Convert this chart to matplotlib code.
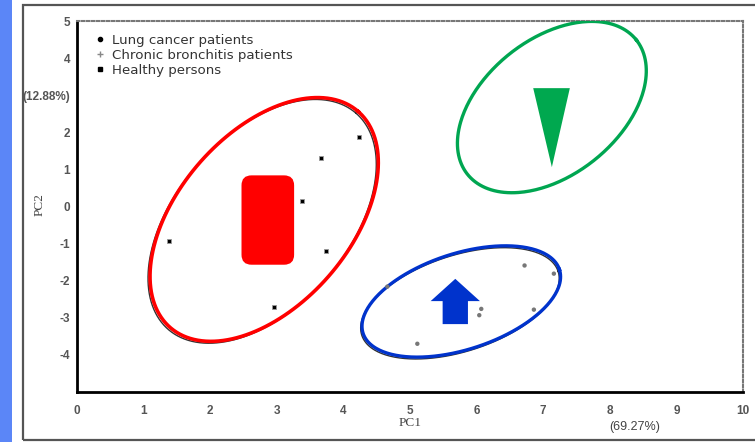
import numpy as np
import matplotlib.pyplot as plt
from matplotlib.lines import Line2D
from matplotlib.patches import Rectangle, Polygon, FancyBboxPatch

# healthy persons (inside the red ellipse)
healthy_x = [1.38, 2.96, 3.38, 3.67, 3.74, 4.24]
healthy_y = [-0.92, -2.70, 0.14, 1.32, -1.19, 1.86]

# chronic bronchitis patients (inside the blue ellipse)
bronch_x = [4.66, 5.11, 6.04, 6.07, 6.72, 6.86, 7.16]
bronch_y = [-2.16, -3.70, -2.93, -2.76, -1.59, -2.78, -1.81]

legend_labels = ["Lung cancer patients", "Chronic bronchitis patients", "Healthy persons"]
x_ticks = list(range(0, 11))
y_ticks = [5, 4, 3, 2, 1, 0, -1, -2, -3, -4]
y_ticklabels = ["5", "4", "(12.88%)", "2", "1", "0", "-1", "-2", "-3", "-4"]

# group ellipses: centre x, centre y, semi-axes (in x units), angle on screen
red_ell = (2.81, -0.35, 2.15, 1.29, 49)
green_ell = (7.13, 2.68, 1.62, 1.02, 38.5)
blue_ell = (5.77, -2.56, 1.55, 0.72, 18)

fig = plt.figure(figsize=(7.55, 4.42), dpi=100)
plt.rcParams['font.family'] = ['Liberation Sans', 'DejaVu Sans']

# page decoration: blue strip and grey frame
fig.add_artist(Rectangle((0, 0), 12 / 755, 1, transform=fig.transFigure,
                         facecolor="#5b86f7", edgecolor="none"))
fig.add_artist(Rectangle((23 / 755, 2 / 442), 1.0, 435 / 442, transform=fig.transFigure,
                         facecolor="none", edgecolor="#555555", linewidth=1.6))

ax = fig.add_axes([77 / 755, 50 / 442, 666 / 755, 371 / 442])
ax.set_xlim(0, 10)
ax.set_ylim(-5, 5)

pos = ax.get_position()
aspect = (pos.width * 755 / 10) / (pos.height * 442 / 10)


def ellipse_xy(cx, cy, a, b, angle, n=300):
    t = np.linspace(0, 2 * np.pi, n)
    th = np.radians(angle)
    ex = a * np.cos(t) * np.cos(th) - b * np.sin(t) * np.sin(th)
    ey = a * np.cos(t) * np.sin(th) + b * np.sin(t) * np.cos(th)
    return cx + ex, cy + ey * aspect


# red group
sx, sy = ellipse_xy(*red_ell)
ax.plot(sx - 0.03, sy - 0.05, color="#333333", lw=1.0, zorder=2)
ax.plot(sx, sy, color="#ff0000", lw=2.6, zorder=3)
ax.add_patch(FancyBboxPatch((2.62, -1.30), 0.49, 1.87,
                            boxstyle="round,pad=0.15,rounding_size=0.15",
                            mutation_aspect=aspect, facecolor="#ff0000",
                            edgecolor="none", zorder=3))

# green group
gx, gy = ellipse_xy(*green_ell)
ax.plot(gx, gy, color="#00a651", lw=2.4, zorder=3)
ax.add_patch(Polygon([(6.85, 3.19), (7.40, 3.19), (7.13, 1.06)],
                     closed=True, facecolor="#00a84f", edgecolor="none", zorder=3))

# blue group
bx, by = ellipse_xy(*blue_ell)
ax.plot(bx - 0.02, by - 0.05, color="#333333", lw=1.0, zorder=2)
ax.plot(bx, by, color="#0033cc", lw=2.4, zorder=3)
ax.add_patch(Polygon([(5.68, -1.95), (6.05, -2.55), (5.87, -2.55), (5.87, -3.17),
                      (5.49, -3.17), (5.49, -2.55), (5.31, -2.55)],
                     closed=True, facecolor="#0033cc", edgecolor="none", zorder=3))

ax.scatter(healthy_x, healthy_y, marker="s", s=11, color="black",
           edgecolors="#999999", linewidths=0.6, zorder=4)
ax.scatter(bronch_x, bronch_y, marker="o", s=10, color="#777777",
           edgecolors="none", zorder=4)

handles = [
    Line2D([], [], ls="none", marker="o", ms=3, color="black"),
    Line2D([], [], ls="none", marker="+", ms=4, mew=1, color="#888888"),
    Line2D([], [], ls="none", marker="s", ms=3, color="black"),
]
ax.legend(handles, legend_labels, loc="upper left", bbox_to_anchor=(0.016, 0.984),
          frameon=False, prop={"family": "DejaVu Sans", "size": 9.6},
          handlelength=0.8, handletextpad=0.5,
          labelspacing=0.16, borderpad=0, labelcolor="#333333")

# axes styling
for side in ["left", "bottom"]:
    ax.spines[side].set_linewidth(2)
    ax.spines[side].set_color("black")
for side in ["top", "right"]:
    ax.spines[side].set_linestyle((0, (1.2, 1.2)))
    ax.spines[side].set_linewidth(1.5)
    ax.spines[side].set_color("#777777")

ax.set_xticks(x_ticks)
ax.set_yticks(y_ticks)
ax.set_yticklabels(y_ticklabels)
ax.tick_params(length=0, labelsize=8.5, labelcolor="#555555")
ax.tick_params(axis="x", pad=9)
ax.tick_params(axis="y", pad=5)
for lab in ax.get_xticklabels() + ax.get_yticklabels():
    lab.set_fontweight("bold")

fig.text(40 / 755, 1 - 205 / 442, "PC2", rotation=90, ha="center", va="center",
         family="Liberation Serif", fontsize=9.5, color="#444444")
fig.text(410 / 755, 1 - 423 / 442, "PC1", ha="center", va="center",
         family="Liberation Serif", fontsize=9.5, color="#444444")
fig.text(635 / 755, 1 - 427 / 442, "(69.27%)", ha="center", va="center",
         fontsize=9, color="#444444")

fig.savefig("out.png", dpi=100)
